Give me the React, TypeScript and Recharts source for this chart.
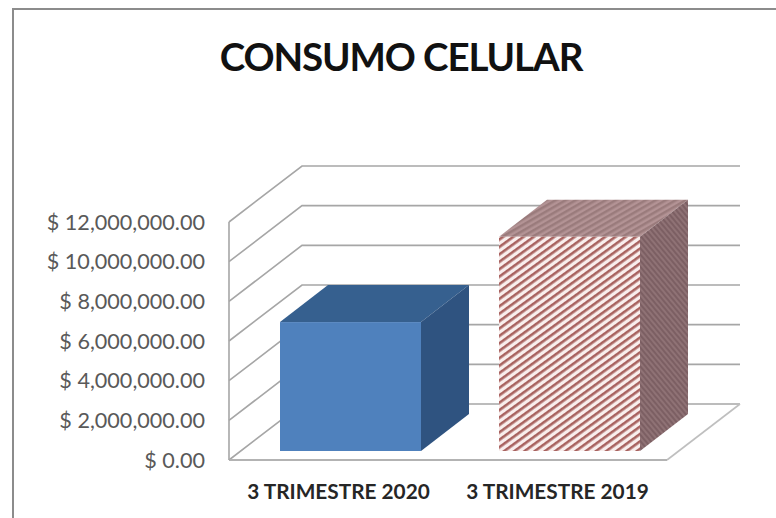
import React from "react";
import { BarChart, Bar, XAxis, YAxis, CartesianGrid, Cell } from "recharts";

const categories = ["3 TRIMESTRE 2020", "3 TRIMESTRE 2019"];
const values = [6500000, 10800000];
const yTicks = [0, 2000000, 4000000, 6000000, 8000000, 10000000, 12000000];
const chartTitle = "CONSUMO CELULAR";

const data = categories.map((name, i) => ({ name, value: values[i] }));

const W = 776;
const H = 518;
const WALL_DX = 73;
const WALL_DY = 56;
const BAR_DX = 48;
const BAR_DY = 37;
const GAP_DX = 12;
const GAP_DY = 9;
const GRID = "#a6a6a6";

const faces = [
  { front: "#4f81bd", top: "#36608f", side: "#2f5380" },
  { front: "url(#hatchFront)", top: "url(#hatchTop)", side: "url(#hatchSide)" },
];

const money = (v: number) =>
  "$ " + v.toLocaleString("en-US", { minimumFractionDigits: 2, maximumFractionDigits: 2 });

const GridLine = (p: any) => {
  const { x1, x2, y1, y2 } = p;
  const by = y1 - WALL_DY;
  const isFloor = Math.abs(y1 - (222 + 238)) < 1;
  return (
    <g>
      <polyline
        points={`${x1},${y1} ${x1 + WALL_DX},${by} ${x2 + WALL_DX},${by}`}
        fill="none"
        stroke={GRID}
        strokeWidth={1.6}
      />
      {isFloor ? (
        <line x1={x2} y1={y2} x2={x2 + WALL_DX} y2={by} stroke="#bfbfbf" strokeWidth={1.6} />
      ) : null}
    </g>
  );
};

const Bar3D = (p: any) => {
  const { x, y, width, height, index } = p;
  const c = faces[index];
  const l = x + GAP_DX;
  const r = l + width;
  const t = y - GAP_DY;
  const b = t + height;
  return (
    <g>
      <polygon
        points={`${l},${t} ${l + BAR_DX},${t - BAR_DY} ${r + BAR_DX},${t - BAR_DY} ${r},${t}`}
        fill={c.top}
      />
      <polygon
        points={`${r},${t} ${r + BAR_DX},${t - BAR_DY} ${r + BAR_DX},${b - BAR_DY} ${r},${b}`}
        fill={c.side}
      />
      <rect x={l} y={t} width={width} height={height} fill={c.front} />
    </g>
  );
};

export default function App() {
  return (
    <div style={{ position: "absolute", left: 0, top: 0, width: W, height: H, background: "#fff", overflow: "hidden" }}>
      <div
        style={{
          position: "absolute",
          left: 12,
          top: 8,
          width: W,
          height: H,
          borderLeft: "2px solid #8c8c8c",
          borderTop: "2px solid #8c8c8c",
          boxSizing: "border-box",
        }}
      />
      <div
        style={{
          position: "absolute",
          left: 0,
          top: 33,
          width: 802,
          textAlign: "center",
          fontFamily: "Lato, sans-serif",
          fontWeight: 700,
          fontSize: 38.5,
          letterSpacing: -1.1,
          lineHeight: "46px",
          color: "#111",
        }}
      >
        {chartTitle}
      </div>
      <div style={{ position: "absolute", left: 0, top: 0 }}>
        <BarChart
          width={W}
          height={H}
          data={data}
          margin={{ top: 222, right: 109, bottom: 0, left: 0 }}
          barSize={141}
        >
          <defs>
            <pattern id="hatchFront" width="6" height="6" patternUnits="userSpaceOnUse" patternTransform="rotate(-36)">
              <rect width="6" height="6" fill="#f9eeed" />
              <rect width="6" height="2.6" fill="#a8625f" />
            </pattern>
            <pattern id="hatchTop" width="5" height="5" patternUnits="userSpaceOnUse" patternTransform="rotate(-30)">
              <rect width="5" height="5" fill="#b39395" />
              <rect width="5" height="2.5" fill="#9a7b7c" />
            </pattern>
            <pattern id="hatchSide" width="4" height="4" patternUnits="userSpaceOnUse" patternTransform="rotate(50)">
              <rect width="4" height="4" fill="#8f7275" />
              <rect width="4" height="2" fill="#7c5f63" />
            </pattern>
          </defs>
          <CartesianGrid vertical={false} horizontal={GridLine as any} />
          <XAxis
            dataKey="name"
            height={58}
            tickLine={false}
            axisLine={{ stroke: "#b3b3b3", strokeWidth: 2 }}
            interval={0}
            tick={{ fontFamily: "Lato, sans-serif", fontWeight: 700, fontSize: 20.8, fill: "#262626" }}
            tickMargin={18}
          />
          <YAxis
            width={229}
            domain={[0, 12000000]}
            ticks={yTicks}
            tickFormatter={money}
            tickLine={false}
            axisLine={{ stroke: GRID, strokeWidth: 1.6 }}
            tick={{ fontFamily: "Lato, sans-serif", fontSize: 21.6, fill: "#595959" }}
            tickMargin={18}
          />
          <Bar dataKey="value" isAnimationActive={false} shape={Bar3D as any}>
            {categories.map((c) => (
              <Cell key={c} />
            ))}
          </Bar>
        </BarChart>
      </div>
    </div>
  );
}
